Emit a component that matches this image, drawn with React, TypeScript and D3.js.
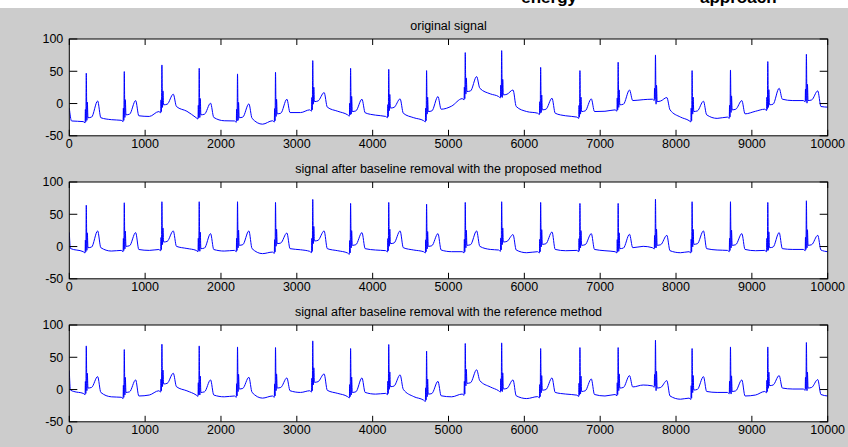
import React from 'react';
import * as d3 from 'd3';

// R-peak sample positions (shared by the three traces)
const beatPos = [224, 725, 1221, 1713, 2218, 2719, 3210, 3709, 4212, 4711, 5221, 5701, 6215, 6733, 7237, 7729, 8212, 8718, 9210, 9719];

// original signal
const origStart: [number, number][] = [[0, -7], [30, -27]];
const origBase = [-28, -26, -12.4, -22, -27, -26.7, -9.8, -17.5, -20, -26.5, 7.6, 10.8, -15, -21, -9.8, 6.7, -26.5, -21, -8.8, 4.6];
const origPeak = [47, 49.5, 59.8, 54.6, 45.9, 48.5, 66.5, 54.6, 53, 51, 78.9, 82, 56, 51, 64, 75.3, 51, 52, 65, 76.3];
const origSt = [-22, -17.5, -2, -17.5, -22, -16, 3, -12.4, -7, -12.4, 18.6, 13.4, -9.8, -12.4, -2, 3, -12.4, -9.8, -2, 4.6];
const origT = [4, 4.6, 14.5, 0.5, -0.5, 6.7, 17, 6.7, 7.2, 10.8, 41.8, 21, 8.2, 7.2, 21, 9.3, 3.6, 4.6, 23.7, 19.6];
const origPost = [-22, -19, -4.6, -21.5, -23, -14, -5.6, -14.3, -15, -8.8, 23.7, -4.6, -15, -12.4, 4.6, -9.8, -17.5, -16, 6.7, -4.6];
const origDrift = [-25, -20, -12, -26.7, -32, -14, -12, -18, -22, -4, 15, -12.4, -19, -12, 6, -21, -23, -12, 4.6, -5.6];

// proposed method
const propStart: [number, number][] = [[0, 22], [15, -3]];
const propBase = [-8, -6, -4.6, -6, -6, -8.6, -7.5, -10, -6.4, -8, -8, -5.4, -8, -6, -8, -1.8, -8, -6, -6, -4.5];
const propPeak = [64, 67.8, 69.4, 69.4, 69.4, 68.3, 73, 66.8, 68.3, 65.7, 68.3, 69.4, 68.3, 66.8, 66.8, 73.5, 69.4, 69.4, 68.3, 70.9];
const propSt = [-1.8, 0.3, 7, -3.3, 1.9, 4.5, 8.6, 1.9, 4.5, 0.3, 1.9, 7, 3.4, 1.9, -3.3, 1.9, 3.4, 1.9, -1.8, 1.9];
const propT = [24.2, 21.6, 24.2, 20, 24.2, 21, 24.2, 21.6, 24.2, 20, 24.2, 18.5, 22.6, 20, 19, 17.4, 24.2, 20, 21.6, 17.4];
const propPost = [-1.8, -4.6, 0.3, -4.6, -3.3, -3.3, -3.3, -3.3, -1.8, -5.4, 0.3, -5.4, -4.5, -4.5, -1.8, -6.5, -3.3, -4.5, -3.3, -5.4];
const propDrift = [-7, -6, -3, -7, -11, -5, -6.5, -5.4, -5.4, -8, -4.5, -9.6, -6.5, -6.5, 0.3, -9.6, -5.4, -6.5, -4.5, -8];

// reference method
const refStart: [number, number][] = [[0, 29.5], [15, -0.8], [60, -3]];
const refBase = [-6, -12, -1.9, -8.5, -10, -10, -1.9, -11, -6, -16.4, -7, -1.9, -11, -8.7, -7.7, 5.6, -13.3, -4.5, -3, 0.8];
const refPeak = [67.6, 61.9, 70.2, 67.6, 66, 65, 75.4, 63.5, 69.7, 59.7, 71.3, 72.3, 63.5, 65, 65, 76.5, 63.5, 66, 66, 72.8];
const refSt = [2.3, -4.5, 8.6, -4.5, 0.8, 2.3, 11.2, -4.5, 4.4, -7.1, 9.6, 0.8, -1, -3, 2.3, 2.3, -0.8, -3, 6, 2.3];
const refT = [20, 14.9, 25.3, 14.9, 19, 18, 24.2, 18, 22.7, 12.7, 30.6, 14.9, 18, 16.4, 21.6, 13.8, 20, 14.9, 21.6, 15.4];
const refPost = [-4.5, -10, 4.4, -8.5, -4.5, -1.9, -1.2, -4.5, 0.3, -9.7, 13.8, -9.7, -4.5, -7.7, 4, -10, -3, -10, 2.3, -7.7];
const refDrift = [-11.3, -8.5, -2, -11.3, -13.3, -4.5, -6, -7.1, -11, -11.3, 4, -14, -7, -10, 7, -15, -4.5, -8.5, 0.8, -10];

const titles = [
  'original signal',
  'signal after baseline removal with the proposed method',
  'signal after baseline removal with the reference method',
];
const xTicks = [0, 1000, 2000, 3000, 4000, 5000, 6000, 7000, 8000, 9000, 10000];
const yTicks = [-50, 0, 50, 100];

function buildSignal(start: [number, number][], base: number[], peak: number[], st: number[], t: number[], post: number[], drift: number[]) {
  const pts: [number, number][] = [...start];
  beatPos.forEach((r, i) => {
    const h = peak[i] - base[i];
    pts.push([r - 40, base[i]]);
    pts.push([r - 16, base[i] - 2]);
    pts.push([r - 12, base[i] + h * 0.25]);
    pts.push([r - 6, base[i]]);
    pts.push([r, peak[i]]);
    pts.push([r + 8, st[i] - 4]);
    pts.push([r + 14, st[i] + (peak[i] - st[i]) * 0.35]);
    pts.push([r + 22, st[i]]);
    pts.push([r + 70, st[i] + 1]);
    pts.push([r + 150, t[i]]);
    pts.push([r + 192, post[i]]);
    pts.push([r + 330, drift[i]]);
  });
  const out = pts.filter(p => p[0] < 10000);
  out.push([10000, drift[drift.length - 1]]);
  return out;
}

const signals = [
  buildSignal(origStart, origBase, origPeak, origSt, origT, origPost, origDrift),
  buildSignal(propStart, propBase, propPeak, propSt, propT, propPost, propDrift),
  buildSignal(refStart, refBase, refPeak, refSt, refT, refPost, refDrift),
];

const W = 848;
const H = 447;
const left = 69.3;
const right = 827.7;
const tops = [39, 182, 325];
const axH = 96.8;
const font = 'Arial, "Liberation Sans", Helvetica, sans-serif';

const Panel: React.FC<{ idx: number }> = ({ idx }) => {
  const top = tops[idx];
  const x = d3.scaleLinear().domain([0, 10000]).range([left, right]);
  const y = d3.scaleLinear().domain([-50, 100]).range([top + axH, top]);
  const line = d3.line<[number, number]>().x(d => x(d[0])).y(d => y(d[1])).curve(d3.curveMonotoneX);
  const clipId = `clip${idx}`;
  return (
    <g>
      <defs>
        <clipPath id={clipId}>
          <rect x={left} y={top} width={right - left} height={axH} />
        </clipPath>
      </defs>
      <rect x={left} y={top} width={right - left} height={axH} fill="#fff" />
      <path d={line(signals[idx]) || ''} fill="none" stroke="#0000ff" strokeWidth={1} clipPath={`url(#${clipId})`} />
      {xTicks.map(t => (
        <g key={'x' + t}>
          <line x1={x(t)} x2={x(t)} y1={top + axH} y2={top + axH - 6} stroke="#000" />
          <line x1={x(t)} x2={x(t)} y1={top} y2={top + 6} stroke="#000" />
          <text x={x(t)} y={top + axH + 12.5} textAnchor="middle" fontSize={12.5} fontFamily={font} fill="#000">{t}</text>
        </g>
      ))}
      {yTicks.map(t => (
        <g key={'y' + t}>
          <line x1={left} x2={left + 8} y1={y(t)} y2={y(t)} stroke="#000" />
          <line x1={right} x2={right - 8} y1={y(t)} y2={y(t)} stroke="#000" />
          <text x={left - 6} y={y(t)} dy="0.35em" textAnchor="end" fontSize={12.5} fontFamily={font} fill="#000">{t}</text>
        </g>
      ))}
      <rect x={left} y={top} width={right - left} height={axH} fill="none" stroke="#000" strokeWidth={1} />
      <text x={(left + right) / 2} y={top - 9} textAnchor="middle" fontSize={12.5} fontFamily={font} fill="#000">{titles[idx]}</text>
    </g>
  );
};

export default function App() {
  return (
    <svg width={W} height={H} style={{ position: 'absolute', left: 0, top: 0, background: '#fff' }}>
      <rect x={0} y={8} width={W} height={H - 8} fill="#cccccc" />
      <text x={577} y={3} textAnchor="end" fontSize={17} fontWeight="bold" fontFamily={font} fill="#000">energy</text>
      <text x={700} y={3} fontSize={17} fontWeight="bold" fontFamily={font} fill="#000">approach</text>
      {[0, 1, 2].map(i => <Panel key={i} idx={i} />)}
    </svg>
  );
}
